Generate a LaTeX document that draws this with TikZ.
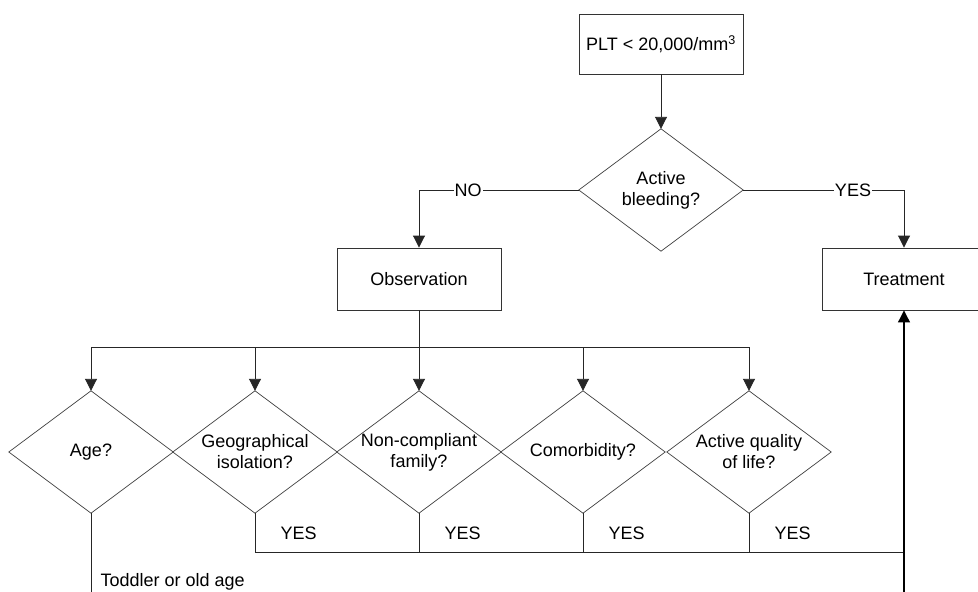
\documentclass[tikz,border=0pt]{standalone}
\usepackage{fontspec}
\setmainfont{Liberation Sans}
\usetikzlibrary{arrows.meta}
\begin{document}
\begin{tikzpicture}[x=1pt,y=-1pt,
  every node/.style={font=\fontsize{18}{21}\selectfont, text=black},
  boxnode/.style={draw=black!80, line width=0.9pt, minimum width=164pt, minimum height=62pt, inner sep=0pt, align=center},
  decnode/.style={minimum width=164pt, minimum height=122pt, inner sep=0pt, align=center},
  diam/.style={draw=black!75, line width=0.7pt},
  conn/.style={draw=black!85, line width=0.9pt},
  arr/.style={conn, -{Triangle[width=12pt,length=12pt]}},
  lbl/.style={fill=white, inner sep=1pt}]
\useasboundingbox (0,0) rectangle (978,592);
\clip (0,0) rectangle (978,592);
\fill[white] (0,0) rectangle (978,592);

% nodes
\node[boxnode, minimum height=60pt] (plt) at (661,44) {PLT < 20,000/mm\textsuperscript{3}};
\node[decnode] (ab) at (661,190) {Active\\bleeding?};
\node[boxnode] (obs) at (419,279) {Observation};
\node[boxnode] (treat) at (904,279) {Treatment};

\node[decnode] (d1) at (91,452) {Age?};
\node[decnode] (d2) at (255,452) {Geographical\\isolation?};
\node[decnode] (d3) at (419,452) {Non-compliant\\family?};
\node[decnode] (d4) at (583,452) {Comorbidity?};
\node[decnode] (d5) at (749,452) {Active quality\\of life?};

% diamond outlines
\foreach \n in {ab,d1,d2,d3,d4,d5}{
  \draw[diam] (\n.north) -- (\n.east) -- (\n.south) -- (\n.west) -- cycle;
}

% coordinates
\coordinate (nocorner) at (419,190);
\coordinate (split) at (419,347);
\coordinate (splitL) at (91,347);
\coordinate (splitR) at (749,347);
\coordinate (yesL) at (255,552);
\coordinate (yesR) at (904,552);
\coordinate (bot1) at (91,600);
\coordinate (bot2) at (904,600);

% connectors
\draw[arr] (plt.south) -- (ab.north);
\draw[arr] (ab.west) -- (nocorner) -- (obs.north);
\node[lbl] at (468,190) {NO};
\draw[arr] (ab.east) -| (treat.north);
\node[lbl] at (853,190) {YES};

\draw[conn] (obs.south) -- (split);
\draw[conn] (splitL) -- (splitR);
\foreach \n in {d1,d2,d3,d4,d5}{
  \draw[arr] (\n.north |- split) -- (\n.north);
}

\foreach \n in {d2,d3,d4,d5}{
  \draw[conn] (\n.south) -- (\n.south |- yesL);
  \node[anchor=west] at ([xshift=22pt,yshift=-20pt]\n.south) {YES};
}
\draw[conn] (yesL) -- (yesR);
\draw[arr, line width=1.1pt, draw=black] (bot2) -- (treat.south);

\draw[conn] (d1.south) -- (bot1);
\node[anchor=west] at (97,582) {Toddler or old age};
\end{tikzpicture}
\end{document}
